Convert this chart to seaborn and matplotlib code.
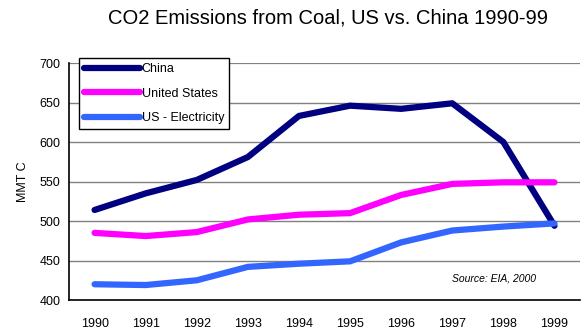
import matplotlib
matplotlib.use("Agg")
import matplotlib.pyplot as plt
import seaborn as sns
import pandas as pd

years = [1990, 1991, 1992, 1993, 1994, 1995, 1996, 1997, 1998, 1999]
china = [514, 535, 552, 581, 633, 646, 642, 649, 600, 494]
united_states = [485, 481, 486, 502, 508, 510, 533, 547, 549, 549]
us_electricity = [420, 419, 425, 442, 446, 449, 473, 488, 493, 497]
series_names = ["China", "United States", "US - Electricity"]
series_colors = ["#000080", "#FF00FF", "#3366FF"]
y_ticks = [400, 450, 500, 550, 600, 650, 700]

df = pd.DataFrame({
    "pos": list(range(len(years))) * 3,
    "value": china + united_states + us_electricity,
    "series": [s for s in series_names for _ in years],
})

sns.set_style("white")
plt.rcParams["font.family"] = ["Liberation Sans", "DejaVu Sans"]
plt.rcParams["text.color"] = "black"
plt.rcParams["xtick.color"] = "black"
plt.rcParams["ytick.color"] = "black"

fig = plt.figure(figsize=(5.81, 3.29), dpi=100)
ax = fig.add_axes([0.1188, 0.088, 0.8795, 0.7205])

for y in y_ticks[1:]:
    ax.axhline(y, color="#808080", lw=1.6 if y == 700 else 1.0, zorder=0)

sns.lineplot(data=df, x="pos", y="value", hue="series", hue_order=series_names,
             palette=series_colors, linewidth=4.5, ax=ax, solid_capstyle="round",
             legend=True)

ax.set_xlim(-0.5, len(years) - 0.5)
ax.set_ylim(400, 700)
ax.set_yticks(y_ticks)
ax.set_yticklabels([str(v) for v in y_ticks], fontsize=9)
ax.set_xticks([i - 0.5 for i in range(len(years) + 1)])
ax.set_xticklabels([])
ax.set_xticks(list(range(len(years))), minor=True)
ax.set_xticklabels([str(y) for y in years], minor=True, fontsize=9)
ax.tick_params(axis="x", which="major", direction="out", length=4, width=1, color="black")
ax.tick_params(axis="x", which="minor", length=0, pad=13)
ax.tick_params(axis="y", direction="out", length=4, width=1, color="black", pad=2)

for side in ["top", "right"]:
    ax.spines[side].set_visible(False)
for side in ["left", "bottom"]:
    ax.spines[side].set_color("black")
    ax.spines[side].set_linewidth(1.2)

ax.set_xlabel("")
ax.set_ylabel("MMT C", fontsize=9, labelpad=8, color="black")

handles, labels = ax.get_legend_handles_labels()
leg = ax.legend(handles, labels, loc="upper left", bbox_to_anchor=(0.0196, 1.021),
                borderaxespad=0, fontsize=9, frameon=True, fancybox=False,
                edgecolor="black", framealpha=1, handlelength=4.5, handletextpad=0.1,
                labelspacing=1.0, borderpad=0.4)
leg.get_frame().set_linewidth(1.0)
for line in leg.get_lines():
    line.set_linewidth(4.5)
    line.set_solid_capstyle("round")
for t in leg.get_texts():
    t.set_color("black")

ax.text(0.914, 0.09, "Source: EIA, 2000", transform=ax.transAxes, fontsize=7.5,
        style="italic", ha="right", va="center")

fig.suptitle("CO2 Emissions from Coal, US vs. China 1990-99", x=0.565, y=0.975,
             fontsize=14.5)

fig.savefig("out.png", dpi=100)
